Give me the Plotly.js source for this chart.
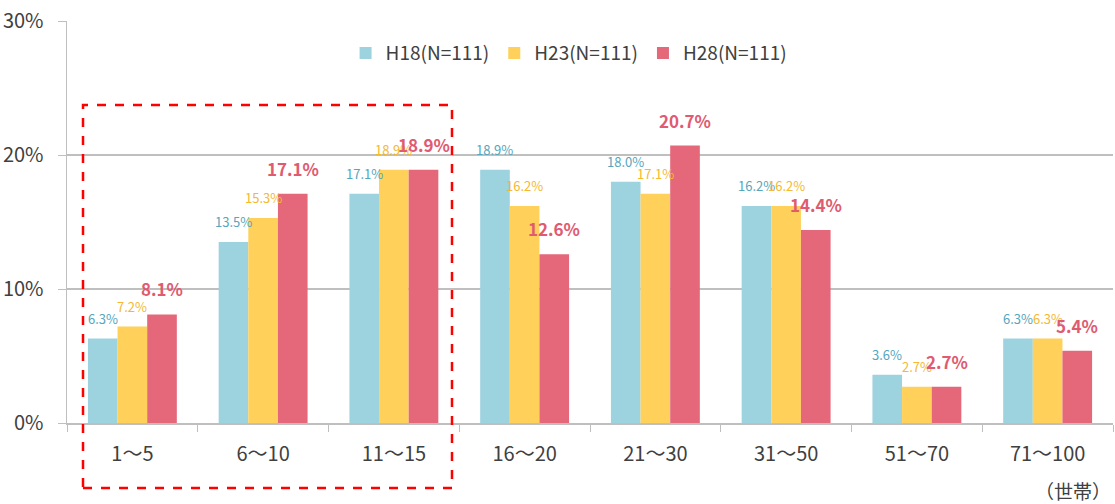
<!DOCTYPE html>
<html><head><meta charset="utf-8">
<script src="https://cdn.plot.ly/plotly-3.0.1.min.js"></script>
<style>html,body{margin:0;padding:0;background:#fff;}#chart{width:1115px;height:504px;}</style>
</head><body><div id="chart"></div>
<script>
const categories = ["1〜5","6〜10","11〜15","16〜20","21〜30","31〜50","51〜70","71〜100"];
const seriesNames = ["H18(N=111)","H23(N=111)","H28(N=111)"];
const h18 = [6.3,13.5,17.1,18.9,18.0,16.2,3.6,6.3];
const h23 = [7.2,15.3,18.9,16.2,17.1,16.2,2.7,6.3];
const h28 = [8.1,17.1,18.9,12.6,20.7,14.4,2.7,5.4];
const yTicks = [0,10,20,30];
const yTickLabels = ["0%","10%","20%","30%"];

const FONT = '"Noto Sans CJK JP", "Noto Sans", sans-serif';
const barColors = ['#9dd3df','#ffd05a','#e4687a'];
const textColors = ['#55a6bd','#f5b830','#e05a70'];
const allSeries = [h18,h23,h28];

const data = allSeries.map((y,i)=>({type:'bar', name:seriesNames[i], x:categories, y:y,
  marker:{color:barColors[i], line:{width:0}}, hoverinfo:'skip'}));

// value labels as annotations (offset per series inside each group)
const plotW = 1046, bargap = 0.32;
const barW = plotW/categories.length*(1-bargap)/3;
const annotations = [];
allSeries.forEach((y,i)=>{
  y.forEach((v,j)=>{
    const red = i===2;
    annotations.push({x:categories[j], y:v, xref:'x', yref:'y',
      text: red ? '<b>'+v.toFixed(1)+'%</b>' : v.toFixed(1)+'%',
      showarrow:false, xanchor:'center', yanchor:'bottom',
      xshift:(i-1)*barW, yshift: red ? 11 : 9,
      font:{family:FONT, size: red ? 17 : 13, color:textColors[i]}});
  });
});
annotations.push({text:'（世帯）', xref:'paper', yref:'paper',
  x:1, xanchor:'right', y:(423-490)/402, yanchor:'middle', showarrow:false,
  font:{size:19, color:'#404040'}});

const layout = {
  width:1115, height:504,
  margin:{l:67, r:2, t:21, b:81},
  paper_bgcolor:'#fff', plot_bgcolor:'#fff',
  font:{family:FONT, color:'#404040', size:19},
  barmode:'group', bargap:bargap, bargroupgap:0,
  showlegend:true,
  legend:{orientation:'h', x:0.48, xanchor:'center', y:0.92, yanchor:'middle',
    font:{size:19, color:'#404040'}, itemwidth:30, bgcolor:'rgba(0,0,0,0)'},
  xaxis:{type:'category', showline:true, linecolor:'#bfbfbf', linewidth:1.5,
    ticks:'outside', tickson:'boundaries', ticklen:7, tickcolor:'#bfbfbf',
    tickfont:{size:20, color:'#404040'}, showgrid:false, ticklabelstandoff:12},
  yaxis:{range:[0,30], tickvals:yTicks, ticktext:yTickLabels,
    showgrid:true, gridcolor:'#bfbfbf', gridwidth:1.5,
    showline:true, linecolor:'#bfbfbf', linewidth:1.5,
    ticks:'outside', ticklen:8, tickcolor:'#bfbfbf',
    tickfont:{size:20, color:'#404040'}, zeroline:false, ticklabelstandoff:10},
  shapes:[{type:'rect', xref:'paper', yref:'paper',
    x0:(83-67)/1046, x1:(452-67)/1046, y0:(423-488)/402, y1:(423-105)/402,
    line:{color:'#ff0000', width:2.5, dash:'dash'}, fillcolor:'rgba(0,0,0,0)'}],
  annotations:annotations
};
Plotly.newPlot('chart', data, layout, {displayModeBar:false, staticPlot:true});
</script></body></html>
